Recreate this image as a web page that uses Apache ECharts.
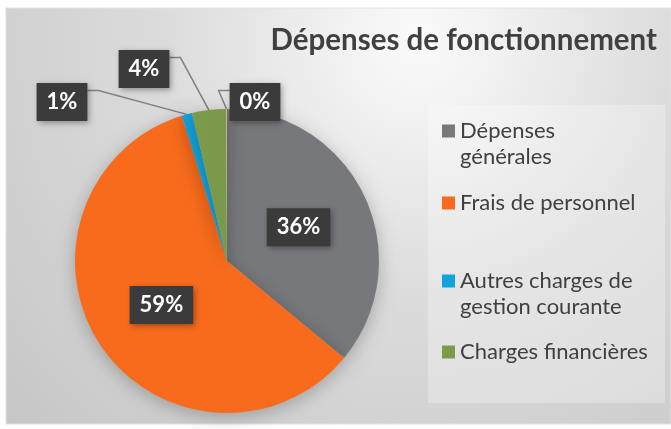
<!DOCTYPE html>
<html>
<head>
<meta charset="utf-8">
<script src="https://cdn.jsdelivr.net/npm/echarts@6/dist/echarts.min.js"></script>
<style>
  html, body { margin: 0; padding: 0; background: #fff; }
  #main { width: 671px; height: 429px; }
</style>
</head>
<body>
<div id="main"></div>
<script>
// données du graphique
var categories = ['Dépenses générales', 'Frais de personnel', 'Autres charges de gestion courante', 'Charges financières', 'Charges exceptionnelles'];
var values = [36.0, 59.2, 1.1, 3.6, 0.1];
var colors = ['#77787c', '#f96b1c', '#14a2dc', '#7b9a4a', '#cdb98a'];
var legendNames = categories.slice(0, 4);
var legendLabels = ['Dépenses\ngénérales', 'Frais de personnel', 'Autres charges de\ngestion courante', 'Charges financières'];

// position des étiquettes sorties du camembert (centre, px)
var outsideLabelPos = { 2: [62, 102], 3: [144, 69], 4: [255, 102] };
var legendTops = [92, 190, 242, 339];

var font = 'Lato';
var chart = echarts.init(document.getElementById('main'), null, { renderer: 'canvas' });

var pieData = categories.map(function (name, i) {
  var item = { name: name, value: values[i], itemStyle: { color: colors[i] } };
  if (outsideLabelPos[i]) {
    item.label = { position: 'outside' };
    item.labelLine = { show: true };
  }
  return item;
});

// une légende par entrée : l'icône s'aligne sur la première ligne
var legends = legendNames.map(function (name, i) {
  var txt = legendLabels[i];
  if (txt.indexOf('\n') >= 0) txt = ' \n' + txt;
  return {
    data: [name],
    orient: 'vertical',
    left: 442,
    top: legendTops[i],
    padding: 0,
    icon: 'rect',
    itemWidth: 13,
    itemHeight: 13,
    selectedMode: false,
    formatter: function () { return txt; },
    textStyle: {
      fontFamily: font,
      fontSize: 22,
      color: '#404040',
      lineHeight: 26
    }
  };
});

function layoutOutside(params) {
  var pos = outsideLabelPos[params.dataIndex];
  if (!pos) return {};
  var w = params.labelRect.width, h = params.labelRect.height;
  var anchor = params.labelLinePoints ? params.labelLinePoints[0] : [pos[0], pos[1]];
  var leftSide = pos[0] < anchor[0];
  var ex = leftSide ? pos[0] + w / 2 : pos[0] - w / 2;
  var ey = pos[1] - h * 0.3;
  var elbow = [leftSide ? ex + 11 : ex - 11, ey];
  return {
    x: pos[0],
    y: pos[1],
    align: 'center',
    verticalAlign: 'middle',
    labelLinePoints: [anchor, elbow, [ex, ey]]
  };
}

var option = {
  animation: false,
  graphic: [
    {
      type: 'rect',
      z: -10,
      shape: { x: 6, y: 8, width: 665, height: 416 },
      style: {
        fill: {
          type: 'radial', x: 0.62, y: 0.08, r: 1.35,
          colorStops: [
            { offset: 0, color: '#fbfbfb' },
            { offset: 0.45, color: '#dcdcdc' },
            { offset: 1, color: '#c6c6c6' }
          ]
        },
        stroke: '#e2e2e2',
        lineWidth: 1
      }
    },
    {
      type: 'rect',
      z: -9,
      shape: { x: 428, y: 105, width: 237, height: 298 },
      style: { fill: 'rgba(255,255,255,0.28)' }
    }
  ],
  title: {
    text: 'Dépenses de fonctionnement',
    right: 14,
    top: 25,
    padding: 0,
    textStyle: { fontFamily: font, fontSize: 29.5, fontWeight: 'bold', color: '#404040' }
  },
  legend: legends,
  series: [{
    type: 'pie',
    center: [227, 261],
    radius: 152,
    startAngle: 90,
    clockwise: true,
    avoidLabelOverlap: false,
    emphasis: { disabled: true },
    itemStyle: {
      shadowBlur: 18,
      shadowColor: 'rgba(0,0,0,0.25)',
      shadowOffsetY: 4
    },
    label: {
      show: true,
      position: 'inside',
      formatter: function (p) { return Math.round(p.percent) + '%'; },
      fontFamily: font,
      fontSize: 22,
      fontWeight: 'bold',
      color: '#ffffff',
      backgroundColor: '#3b3b3b',
      padding: [8, 10, 8, 10],
      shadowBlur: 6,
      shadowColor: 'rgba(0,0,0,0.35)',
      shadowOffsetX: 2,
      shadowOffsetY: 2
    },
    labelLine: {
      show: true,
      length: 20,
      length2: 10,
      lineStyle: { color: '#808080', width: 1.5 }
    },
    labelLayout: layoutOutside,
    data: pieData
  }]
};

chart.setOption(option);
</script>
</body>
</html>
